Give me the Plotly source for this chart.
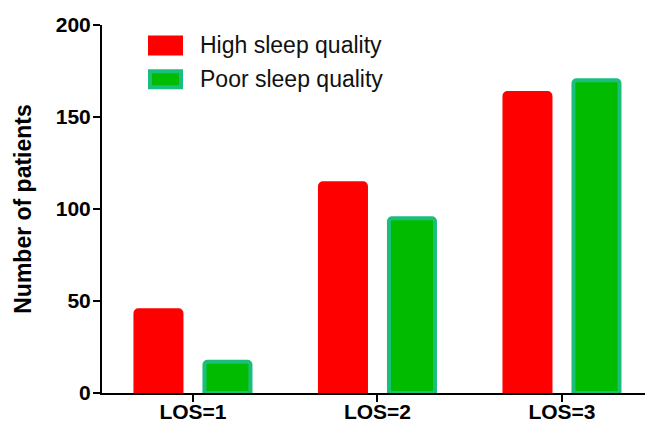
import plotly.graph_objects as go

categories = ["LOS=1", "LOS=2", "LOS=3"]
high_quality = [45, 114, 163]
poor_quality = [17, 95, 170]
series_names = ["High sleep quality", "Poor sleep quality"]
y_ticks = [0, 50, 100, 150, 200]

RED = "#FF0000"
GREEN = "#00BB00"
TEAL = "#1BBF7C"
FONT = "Liberation Sans, Arial, sans-serif"

OFF = 8  # default page body margin
W, H = 653 - OFF, 426 - OFF
# plot area in page pixels: x 102..645, y 24.5..393.5
L, R, T, B = 102 - OFF, 8, 24.5 - OFF, 426 - 393.5
pw, ph = W - L - R, H - T - B

def px_x(x):
    return (x - OFF - L) / pw

def px_y(y):
    return (H - B - (y - OFF)) / ph

fig = go.Figure()
fig.add_trace(go.Bar(x=categories, y=high_quality, name=series_names[0],
                     marker=dict(color=RED, line=dict(color=RED, width=4), cornerradius=3),
                     showlegend=False))
fig.add_trace(go.Bar(x=categories, y=poor_quality, name=series_names[1],
                     marker=dict(color=GREEN, line=dict(color=TEAL, width=4), cornerradius=3),
                     showlegend=False))

# manual legend
legend_rows = [(series_names[0], RED, RED, 45), (series_names[1], GREEN, TEAL, 79)]
shapes = []
annotations = []
for name, fill, line, yc in legend_rows:
    shapes.append(dict(type="rect", xref="paper", yref="paper",
                       x0=px_x(150), x1=px_x(181), y0=px_y(yc + 8), y1=px_y(yc - 8),
                       fillcolor=fill, line=dict(color=line, width=4), layer="above"))
    annotations.append(dict(text=name, xref="paper", yref="paper", x=px_x(198), y=px_y(yc),
                            xanchor="left", yanchor="middle", showarrow=False,
                            font=dict(family=FONT, size=23, color="#111111")))

fig.update_layout(
    width=W, height=H,
    margin=dict(l=L, r=R, t=T, b=B, pad=0, autoexpand=False),
    plot_bgcolor="white", paper_bgcolor="white",
    barmode="group", bargap=0.252, bargroupgap=0.333,
    shapes=shapes, annotations=annotations,
    font=dict(family=FONT, color="black"),
)
fig.update_xaxes(range=[-0.493, 2.45], showline=True, linecolor="black", linewidth=2,
                 ticks="outside", ticklen=7, tickwidth=2, tickcolor="black",
                 ticklabelstandoff=-8,
                 tickfont=dict(family=FONT, size=21, color="black", weight="bold"),
                 showgrid=False, zeroline=False, fixedrange=True, automargin=False)
fig.update_yaxes(range=[0, 200], tickvals=y_ticks, showline=True, linecolor="black", linewidth=2,
                 ticks="outside", ticklen=7, tickwidth=2, tickcolor="black",
                 ticklabelstandoff=-2,
                 tickfont=dict(family=FONT, size=21, color="black", weight="bold"),
                 title=dict(text="Number of patients", standoff=18,
                            font=dict(family=FONT, size=23, color="black", weight="bold")),
                 showgrid=False, zeroline=False, fixedrange=True, automargin=False)

fig.write_html("out.html")
